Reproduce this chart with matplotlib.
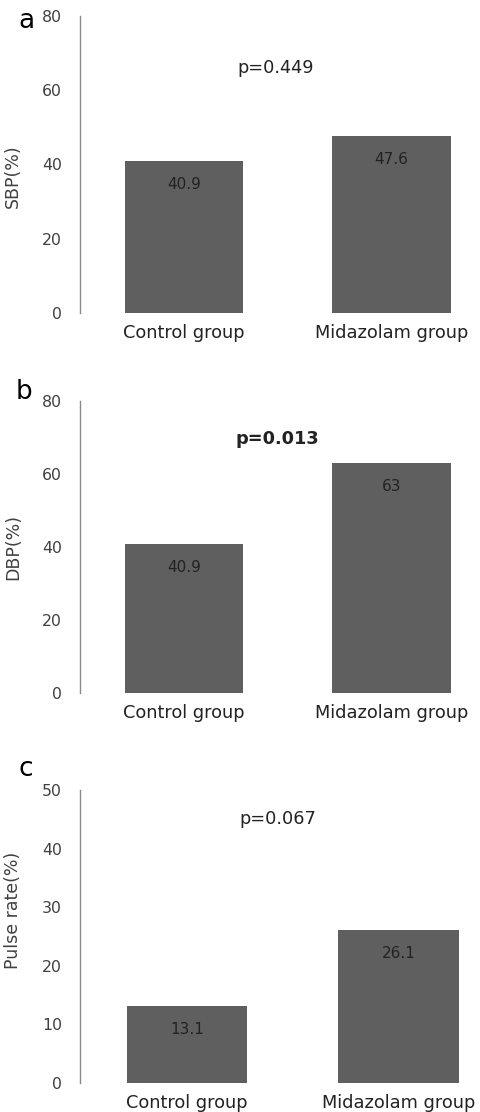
import matplotlib
matplotlib.use("Agg")
import matplotlib.pyplot as plt

# ── Data ──────────────────────────────────────────────────────────────────────
groups = ["Control group", "Midazolam group"]
sbp = [40.9, 47.6]
dbp = [40.9, 63]
pulse = [13.1, 26.1]

panel_letters = ["a", "b", "c"]
ylabels = ["SBP(%)", "DBP(%)", "Pulse rate(%)"]
p_texts = ["p=0.449", "p=0.013", "p=0.067"]
p_bold = [False, True, False]
ymaxes = [80, 80, 50]
ytick_steps = [20, 20, 10]

# ── Style ─────────────────────────────────────────────────────────────────────
plt.rcParams["font.family"] = ["DejaVu Sans"]
BAR_COLOR = "#5f5f5f"
AXIS_COLOR = "#8a8a8a"
TEXT_COLOR = "#404040"
W, H = 481, 1112

fig = plt.figure(figsize=(W / 100, H / 100), dpi=100)

# axes boxes in pixels: (left, top, bottom), plus x limits
boxes = [(80, 16, 313), (80, 401, 693), (80, 790, 1083)]
xlims = [(-0.5, 1.43), (-0.5, 1.43), (-0.506, 1.39)]
letter_pos = [(18, 21), (16, 392), (19, 769)]
p_pos = [(0.44, 66), (0.45, 69.5), (0.43, 45)]
ylabel_y = [0.46, 0.5, 0.59]

for i, vals in enumerate([sbp, dbp, pulse]):
    left, top, bottom = boxes[i]
    ax = fig.add_axes([left / W, (H - bottom) / H, (W - left) / W, (bottom - top) / H])
    x = range(len(groups))
    bars = ax.bar(x, vals, width=0.57, color=BAR_COLOR)
    ax.set_xlim(*xlims[i])
    ax.set_ylim(0, ymaxes[i])
    ax.set_yticks(range(0, ymaxes[i] + 1, ytick_steps[i]))
    ax.set_xticks(list(x))
    ax.set_xticklabels(groups)

    for side in ["top", "right", "bottom"]:
        ax.spines[side].set_visible(False)
    ax.spines["left"].set_color(AXIS_COLOR)
    ax.spines["left"].set_linewidth(1.0)
    ax.tick_params(axis="y", length=0, pad=13, labelsize=11.3, labelcolor=TEXT_COLOR)
    ax.tick_params(axis="x", length=0, pad=8, labelsize=12.8, labelcolor="#222222")

    ax.set_ylabel(ylabels[i], fontsize=12.5, color=TEXT_COLOR)
    ax.yaxis.set_label_coords(-0.145, ylabel_y[i])

    for b, v in zip(bars, vals):
        ax.annotate(f"{v:g}", (b.get_x() + b.get_width() / 2, v),
                    xytext=(0, -17), textcoords="offset points",
                    ha="center", va="center", fontsize=11, color="#222222")

    ax.text(p_pos[i][0], p_pos[i][1], p_texts[i], ha="center", va="center",
            fontsize=12.8, color="#222222",
            fontweight="bold" if p_bold[i] else "normal")

    fig.text(letter_pos[i][0] / W, 1 - letter_pos[i][1] / H, panel_letters[i],
             fontsize=19, ha="left", va="center", color="black")

fig.savefig("out.png", dpi=100)
